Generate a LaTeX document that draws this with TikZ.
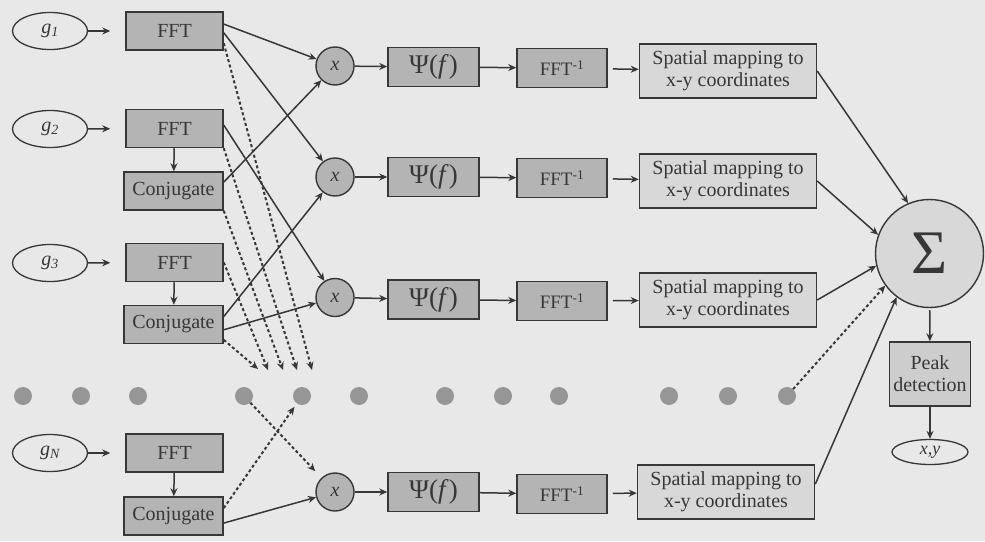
\documentclass[tikz,border=0pt]{standalone}
\usepackage{fontspec}
\setmainfont{LiberationSerif}[Extension=.ttf, UprightFont=*-Regular, ItalicFont=*-Italic, BoldFont=*-Bold, BoldItalicFont=*-BoldItalic]
\usetikzlibrary{arrows.meta,calc,shapes.geometric}
\definecolor{bg}{RGB}{232,232,232}
\definecolor{ln}{RGB}{55,55,55}
\definecolor{boxfill}{RGB}{180,180,180}
\definecolor{lightbox}{RGB}{216,216,216}
\definecolor{peakfill}{RGB}{205,205,205}
\definecolor{dotc}{RGB}{150,150,150}
\begin{document}
\begin{tikzpicture}[x=1pt,y=-1pt,
  every node/.style={text=ln},
  inell/.style={draw=ln, line width=1.3pt, ellipse, minimum width=75pt, minimum height=37pt, inner sep=0pt, font=\fontsize{20}{22}\selectfont\itshape},
  fftbox/.style={draw=ln, line width=1.5pt, fill=boxfill, minimum width=97pt, minimum height=38pt, inner sep=0pt, font=\fontsize{20}{22}\selectfont},
  conjbox/.style={fftbox, minimum width=99pt},
  mult/.style={circle, draw=ln, line width=1.4pt, fill=boxfill, minimum size=38pt, inner sep=0pt, font=\fontsize{20}{22}\selectfont\itshape},
  psibox/.style={fftbox, minimum width=91pt, minimum height=39pt, font=\fontsize{27}{29}\selectfont},
  ifftbox/.style={fftbox, minimum width=90pt, minimum height=39pt, font=\fontsize{19}{21}\selectfont},
  spbox/.style={draw=ln, line width=1.5pt, fill=lightbox, minimum width=177pt, minimum height=54pt, inner sep=0pt, align=center, font=\fontsize{20}{22}\selectfont},
  sigmanode/.style={circle, draw=ln, line width=1.4pt, fill=lightbox, minimum size=108pt, inner sep=0pt, font=\fontsize{62}{62}\selectfont},
  peakbox/.style={draw=ln, line width=1.5pt, fill=peakfill, minimum width=81pt, minimum height=64pt, inner sep=0pt, align=center, font=\fontsize{20}{22}\selectfont},
  outell/.style={draw=ln, line width=1.3pt, ellipse, minimum width=76pt, minimum height=25pt, inner sep=0pt, font=\fontsize{18}{20}\selectfont\itshape},
  bigdot/.style={circle, fill=dotc, minimum size=18pt, inner sep=0pt},
  arr/.style={-{Stealth[length=8pt,width=7pt]}, draw=ln, line width=1.5pt},
  dasharr/.style={arr, line width=2pt, dash pattern=on 3pt off 2.5pt}
]
\fill[bg] (0,0) rectangle (985,541);
\useasboundingbox (0,0) rectangle (985,541);

% inputs
\node[inell] (g1) at (50,31) {g\textsubscript{1}};
\node[inell] (g2) at (50,129) {g\textsubscript{2}};
\node[inell] (g3) at (50,263) {g\textsubscript{3}};
\node[inell] (g4) at (50,453) {g\textsubscript{N}};

\node[fftbox] (f1) at (174.5,31) {FFT};
\node[fftbox] (f2) at (174.5,128.5) {FFT};
\node[conjbox] (c2) at (173.5,191) {Conjugate};
\node[fftbox] (f3) at (174.5,262.5) {FFT};
\node[conjbox] (c3) at (173.5,324.5) {Conjugate};
\node[fftbox] (f4) at (174.5,453) {FFT};
\node[conjbox] (c4) at (173.5,516) {Conjugate};

% multipliers
\node[mult] (m1) at (335,66) {x};
\node[mult] (m2) at (335,177) {x};
\node[mult] (m3) at (335,297.5) {x};
\node[mult] (m4) at (335,492) {x};

\node[psibox] (p1) at (433.5,67) {Ψ(\textit{f})};
\node[psibox] (p2) at (433.5,177) {Ψ(\textit{f})};
\node[psibox] (p3) at (433.5,299.5) {Ψ(\textit{f})};
\node[psibox] (p4) at (433.5,492) {Ψ(\textit{f})};

\node[ifftbox] (i1) at (562,68) {FFT\textsuperscript{-1}};
\node[ifftbox] (i2) at (562,178) {FFT\textsuperscript{-1}};
\node[ifftbox] (i3) at (562,301) {FFT\textsuperscript{-1}};
\node[ifftbox] (i4) at (562,494) {FFT\textsuperscript{-1}};

\node[spbox] (s1) at (728,71) {Spatial mapping to\\x-y coordinates};
\node[spbox] (s2) at (728,181) {Spatial mapping to\\x-y coordinates};
\node[spbox] (s3) at (728,300) {Spatial mapping to\\x-y coordinates};
\node[spbox] (s4) at (726,492) {Spatial mapping to\\x-y coordinates};

\node[sigmanode] (sig) at (929.5,253.5) {Σ};
\node[peakbox] (pk) at (930,374) {Peak\\detection};
\node[outell] (xy) at (930,452) {x,y};

% dots
\foreach \n/\x in {1/23,2/81,3/138,4/244,5/302,6/359,7/445,8/503,9/559,10/669,11/728,12/787}
  \node[bigdot] (d\n) at (\x,396) {};

% dashed end points
\coordinate (t1) at (312,370);
\coordinate (t2) at (297,370);
\coordinate (t3) at (283,370);
\coordinate (t4) at (268,370);
\coordinate (t5) at (258,369);

% input arrows
\foreach \i in {1,2,3,4} \draw[arr, shorten >=15pt] (g\i) -- (f\i);
\draw[arr] (f2) -- (c2);
\draw[arr] (f3) -- (c3);
\draw[arr] (f4) -- (c4);

% cross connections
\draw[arr] (f1.8) -- (m1);
\draw[arr] (f1.-2) -- (m2);
\draw[arr] (c2.10) -- (m1);
\draw[arr] (f2.4) -- (m3);
\draw[arr] (c3.9) -- (m2);
\draw[arr] (c3.-6) -- (m3);
\draw[arr] (c4.-8) -- (m4);

% dashed
\draw[dasharr] (f1.-14) -- (t1);
\draw[dasharr] (f2.south east) -- (t2);
\draw[dasharr] (c2.south east) -- (t3);
\draw[dasharr] (f3.east) -- (t4);
\draw[dasharr] (c3.-17) -- (t5);
\draw[dasharr, shorten >=4pt] (c4.9) -- (d5);
\draw[dasharr, shorten >=9pt] (d4) -- (m4);
\draw[dasharr] (d12) -- (sig.216);

% chains
\foreach \i in {1,2,3,4} {
  \draw[arr] (m\i) -- (p\i);
  \draw[arr] (p\i) -- (i\i);
  \draw[arr, shorten <=5pt] (i\i) -- (s\i);
}

% to sum
\draw[arr] (s1.east) -- (sig.113);
\draw[arr] (s2.east) -- (sig.160);
\draw[arr] (s3.east) -- (sig.193);
\draw[arr] (s4.5) -- (sig.233);

\draw[arr, shorten <=2pt] (sig) -- (pk);
\draw[arr] (pk) -- (xy);
\end{tikzpicture}
\end{document}
